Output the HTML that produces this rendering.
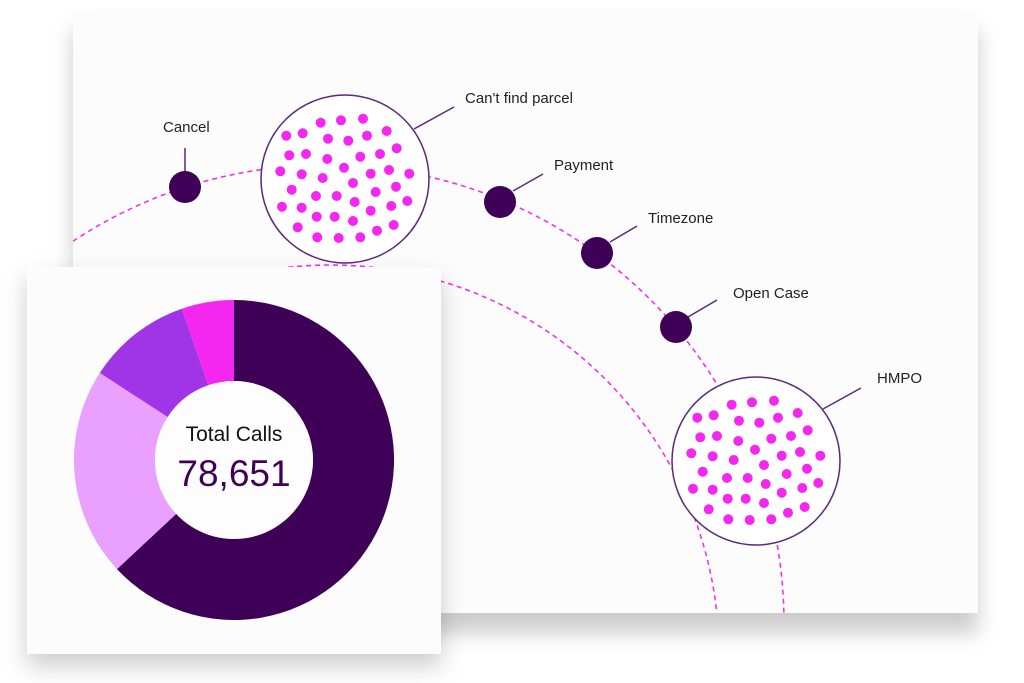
<!DOCTYPE html>
<html><head><meta charset="utf-8"><style>
html,body{margin:0;padding:0;background:#fff;width:1024px;height:683px;overflow:hidden}
svg{display:block}
text{font-family:"Liberation Sans","DejaVu Sans",sans-serif}
</style></head><body>
<svg width="1024" height="683" viewBox="0 0 1024 683" xmlns="http://www.w3.org/2000/svg">
<defs>
<filter id="sh" x="-10%" y="-10%" width="120%" height="130%"><feDropShadow dx="0" dy="20" stdDeviation="10" flood-color="#000" flood-opacity="0.2"/></filter>
<filter id="sh2" x="-10%" y="-10%" width="120%" height="130%"><feDropShadow dx="0" dy="12" stdDeviation="12" flood-color="#000" flood-opacity="0.2"/></filter>
<clipPath id="bp"><rect x="73" y="10" width="905" height="603"/></clipPath>
<g id="dots" fill="#f427f0">
<circle cx="286.3" cy="135.7" r="5"/><circle cx="302.7" cy="133.3" r="5"/><circle cx="320.7" cy="122.7" r="5"/><circle cx="341" cy="120.3" r="5"/><circle cx="363" cy="118.7" r="5"/><circle cx="386.7" cy="131" r="5"/><circle cx="328" cy="138.7" r="5"/><circle cx="348.3" cy="140.7" r="5"/><circle cx="367" cy="135.7" r="5"/><circle cx="396.7" cy="148.3" r="5"/><circle cx="289.3" cy="155.3" r="5"/><circle cx="306" cy="154" r="5"/><circle cx="327.3" cy="159" r="5"/><circle cx="360.3" cy="156.7" r="5"/><circle cx="380" cy="154" r="5"/><circle cx="280.3" cy="171.3" r="5"/><circle cx="301.7" cy="174.3" r="5"/><circle cx="322.7" cy="178" r="5"/><circle cx="344" cy="167.7" r="5"/><circle cx="353" cy="183" r="5"/><circle cx="370.7" cy="173.7" r="5"/><circle cx="389" cy="170" r="5"/><circle cx="409.3" cy="173.7" r="5"/><circle cx="396" cy="186.7" r="5"/><circle cx="291.7" cy="189.7" r="5"/><circle cx="316" cy="196" r="5"/><circle cx="336.7" cy="196" r="5"/><circle cx="354.7" cy="202" r="5"/><circle cx="375.7" cy="192" r="5"/><circle cx="407.3" cy="201" r="5"/><circle cx="282" cy="206.7" r="5"/><circle cx="301.7" cy="207.7" r="5"/><circle cx="316.7" cy="216.7" r="5"/><circle cx="334.7" cy="216.7" r="5"/><circle cx="353" cy="221" r="5"/><circle cx="370.7" cy="210.7" r="5"/><circle cx="391.3" cy="206" r="5"/><circle cx="297.7" cy="227.3" r="5"/><circle cx="317.3" cy="237.3" r="5"/><circle cx="338.7" cy="238" r="5"/><circle cx="360.3" cy="237.3" r="5"/><circle cx="377" cy="230.7" r="5"/><circle cx="393.7" cy="225" r="5"/>
</g>
</defs>
<rect x="73" y="10" width="905" height="603" fill="#fcfcfc" filter="url(#sh)"/>
<g clip-path="url(#bp)" fill="none" stroke="#f427f0" stroke-width="1.5" stroke-dasharray="5,4">
<circle cx="326" cy="623" r="458"/>
<circle cx="330" cy="654" r="389"/>
</g>
<g stroke="#5a2a78" stroke-width="1.5" fill="none">
<line x1="185" y1="148" x2="185" y2="172"/>
<line x1="414" y1="129" x2="454" y2="107"/>
<line x1="513" y1="191" x2="543" y2="174"/>
<line x1="610" y1="242" x2="637" y2="226"/>
<line x1="688" y1="317" x2="717" y2="300"/>
<line x1="823" y1="409" x2="861" y2="388"/>
</g>
<circle cx="345" cy="179" r="84" fill="#fff" stroke="#5a2a78" stroke-width="1.5"/>
<circle cx="756" cy="461" r="84" fill="#fff" stroke="#5a2a78" stroke-width="1.5"/>
<use href="#dots"/>
<use href="#dots" transform="translate(411,282)"/>
<g fill="#3f0057">
<circle cx="185" cy="187" r="16"/><circle cx="500" cy="202" r="16"/><circle cx="597" cy="253" r="16"/><circle cx="676" cy="327" r="16"/>
</g>
<g font-size="15" fill="#222">
<text x="163" y="132">Cancel</text>
<text x="465" y="103">Can't find parcel</text>
<text x="554" y="170">Payment</text>
<text x="648" y="223">Timezone</text>
<text x="733" y="298">Open Case</text>
<text x="877" y="383">HMPO</text>
</g>
<rect x="27" y="267" width="414" height="387" fill="#fcfcfc" filter="url(#sh2)"/>
<path d="M234,300 A160,160 0 1 1 117.0,569.1 L176.2,513.9 A79,79 0 1 0 234,381 Z" fill="#3f0057"/>
<path d="M117.0,569.1 A160,160 0 0 1 99.8,372.9 L167.7,417.0 A79,79 0 0 0 176.2,513.9 Z" fill="#e9a0ff"/>
<path d="M99.8,372.9 A160,160 0 0 1 181.9,308.7 L208.3,385.3 A79,79 0 0 0 167.7,417.0 Z" fill="#a035e8"/>
<path d="M181.9,308.7 A160,160 0 0 1 234,300 L234,381 A79,79 0 0 0 208.3,385.3 Z" fill="#f427f0"/>
<circle cx="234" cy="460" r="79" fill="#fdfdfd"/>
<text x="234" y="441" font-size="21" fill="#111" text-anchor="middle">Total Calls</text>
<text x="234" y="486" font-size="37" fill="#3f0057" text-anchor="middle">78,651</text>
</svg>
</body></html>
